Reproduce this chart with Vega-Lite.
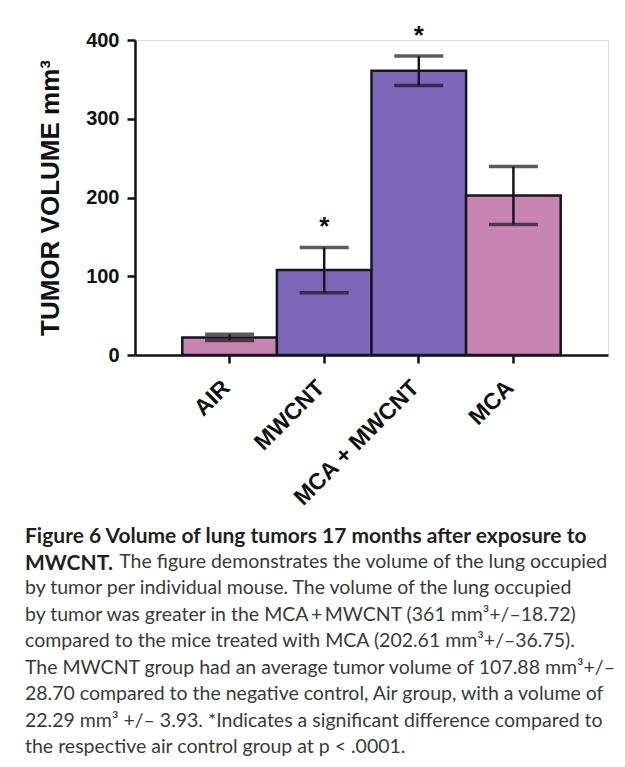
{
  "$schema": "https://vega.github.io/schema/vega-lite/v6.json",
  "width": 473,
  "height": 315,
  "autosize": {"type": "none"},
  "padding": {"left": 135, "top": 40, "right": 17, "bottom": 412},
  "background": "white",
  "data": {
    "values": [
      {"group": "AIR", "exposure": "no MWCNT", "mean": 22.29, "lo": 18.36, "hi": 26.22, "sig": ""},
      {"group": "MWCNT", "exposure": "MWCNT", "mean": 107.88, "lo": 79.18, "hi": 136.58, "sig": "*"},
      {"group": "MCA + MWCNT", "exposure": "MWCNT", "mean": 361, "lo": 342.28, "hi": 379.72, "sig": "*"},
      {"group": "MCA", "exposure": "no MWCNT", "mean": 202.61, "lo": 165.86, "hi": 239.36, "sig": ""}
    ]
  },
  "title": {
    "text": ["Figure 6 Volume of lung tumors 17 months after exposure to", "MWCNT."],
    "subtitle": [
      "\u200b\u00a0\u00a0\u00a0\u00a0\u00a0\u00a0\u00a0\u00a0\u00a0\u00a0\u00a0\u00a0\u00a0\u00a0\u00a0\u00a0\u00a0\u00a0\u00a0The figure demonstrates the volume of the lung occupied",
      "by tumor per individual mouse. The volume of the lung occupied",
      "by tumor was greater in the MCA\u2009+\u2009MWCNT (361 mm³+/–18.72)",
      "compared to the mice treated with MCA (202.61 mm³+/–36.75).",
      "The MWCNT group had an average tumor volume of 107.88 mm³+/–",
      "28.70 compared to the negative control, Air group, with a volume of",
      "22.29 mm³ +/– 3.93. *Indicates a significant difference compared to",
      "the respective air control group at p < .0001."
    ],
    "orient": "bottom",
    "anchor": "start",
    "frame": "group",
    "dx": -110,
    "offset": 16,
    "font": "Lato",
    "fontSize": 21,
    "fontWeight": "bold",
    "color": "#231f20",
    "lineHeight": 26.5,
    "subtitleFont": "Lato",
    "subtitleFontSize": 19.5,
    "subtitleFontWeight": "normal",
    "subtitleColor": "#3a3a3a",
    "subtitleLineHeight": 26.5,
    "subtitlePadding": -21
  },
  "encoding": {
    "x": {
      "field": "group",
      "type": "nominal",
      "sort": null,
      "scale": {"paddingInner": 0, "paddingOuter": 0.5},
      "axis": {
        "title": null,
        "labelAngle": -45,
        "labelFont": "Liberation Sans",
        "labelFontWeight": "bold",
        "labelFontSize": 23,
        "labelColor": "#111",
        "labelPadding": 13,
        "labelOffset": -11,
        "domainColor": "#111",
        "domainWidth": 2.5,
        "tickColor": "#111",
        "tickWidth": 2.5,
        "tickSize": 8
      }
    }
  },
  "layer": [
    {
      "mark": {"type": "bar", "stroke": "#1a1420", "strokeWidth": 2.5},
      "encoding": {
        "y": {
          "field": "mean",
          "type": "quantitative",
          "scale": {"domain": [0, 400], "nice": false},
          "axis": {
            "title": "TUMOR VOLUME mm³",
            "titleFont": "Liberation Sans",
            "titleFontWeight": "bold",
            "titleFontSize": 26,
            "titleColor": "#111",
            "titlePadding": 22,
            "values": [0, 100, 200, 300, 400],
            "grid": false,
            "labelFont": "Liberation Sans",
            "labelFontWeight": "bold",
            "labelFontSize": 20,
            "labelColor": "#111",
            "labelPadding": 8,
            "domainColor": "#111",
            "domainWidth": 2.5,
            "tickColor": "#111",
            "tickWidth": 2.5,
            "tickSize": 8
          }
        },
        "color": {
          "field": "exposure",
          "type": "nominal",
          "scale": {"domain": ["no MWCNT", "MWCNT"], "range": ["#c885b2", "#7b68b9"]},
          "legend": null
        }
      }
    },
    {
      "mark": {"type": "rule", "stroke": "#1a1420", "strokeWidth": 2.5},
      "encoding": {
        "y": {"field": "lo", "type": "quantitative"},
        "y2": {"field": "hi"}
      }
    },
    {
      "mark": {"type": "tick", "orient": "horizontal", "color": "#1a1420", "size": 49, "thickness": 3.5},
      "encoding": {
        "y": {"field": "lo", "type": "quantitative"}
      }
    },
    {
      "mark": {"type": "tick", "orient": "horizontal", "color": "#1a1420", "size": 49, "thickness": 3.5},
      "encoding": {
        "y": {"field": "hi", "type": "quantitative"}
      }
    },
    {
      "mark": {"type": "text", "font": "Liberation Sans", "fontWeight": "bold", "fontSize": 26, "baseline": "alphabetic", "dy": -12, "color": "#111"},
      "encoding": {
        "y": {"field": "hi", "type": "quantitative"},
        "text": {"field": "sig"}
      }
    }
  ]
}
